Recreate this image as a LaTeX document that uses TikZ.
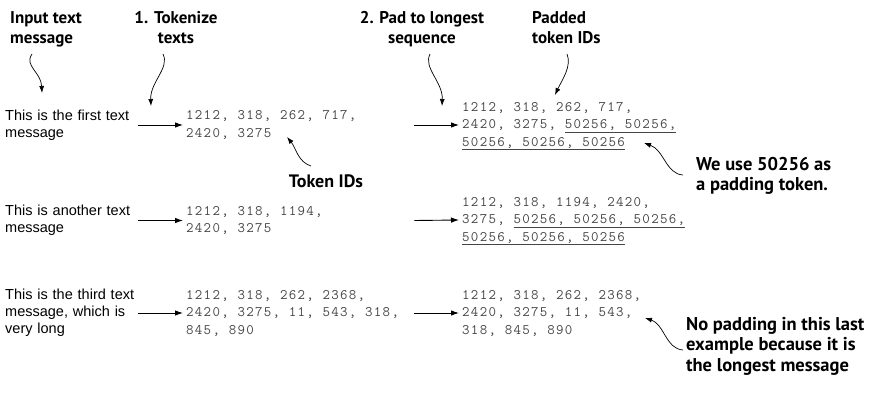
\documentclass[tikz,border=0pt]{standalone}
\usepackage{fontspec}
\setmainfont{Liberation Sans}
\newfontfamily\lblfont{PT Sans}
\newfontfamily\idfont[LetterSpace=9]{Latin Modern Mono}
\usetikzlibrary{arrows.meta}
\definecolor{idgray}{HTML}{454545}
\newcommand{\idlines}[1]{\begin{tabular}{@{}l@{}}#1\end{tabular}}
\begin{document}
\begin{tikzpicture}[x=1pt,y=-1pt,
  lbl/.style={font=\lblfont\bfseries\fontsize{17}{20}\selectfont, inner sep=0pt, align=left, text=black},
  lblr/.style={lbl, font=\lblfont\bfseries\fontsize{18.5}{20.5}\selectfont},
  src/.style={font=\fontsize{14.5}{17}\selectfont, align=left, text width=130pt, inner sep=3pt, anchor=west},
  ids/.style={font=\idfont\fontsize{14.5}{17.5}\selectfont, text=idgray, inner sep=3pt, anchor=west},
  flow/.style={-{Latex[length=8pt,width=5.5pt]}, line width=0.9pt},
  call/.style={-{Latex[length=7pt,width=5pt]}, line width=0.7pt},
]
\useasboundingbox (0,0) rectangle (878,407);

% labels
\node[lbl, anchor=north west] (inlbl) at (10,11) {Input text\\message};
\node[lbl, anchor=north, align=center] (toklbl) at (176,11) {1. Tokenize\\texts};
\node[lbl, anchor=north, align=center] (padlbl) at (422,11) {2. Pad to longest\\sequence};
\node[lbl, anchor=north west] (paddedlbl) at (532,11) {Padded\\token IDs};
\node[lbl, anchor=center, font=\lblfont\bfseries\fontsize{18}{20}\selectfont] (tidlbl) at (326,181) {Token IDs};
\node[lblr, anchor=north west] (uselbl) at (696,157) {We use 50256 as\\a padding token.};
\node[lblr, anchor=north west] (nolbl) at (686,317) {No padding in this last\\example because it is\\the longest message};

% source texts
\node[src] (src1) at (2,125) {This is the first text\\message};
\node[src] (src2) at (2,220.5) {This is another text\\message};
\node[src] (src3) at (2,313) {This is the third text\\message, which is\\very long};

% token IDs
\node[ids] (mid1) at (183,125) {\makebox[225pt][l]{\idlines{1212, 318, 262, 717,\\2420, 3275}}};
\node[ids] (mid2) at (183,220.5) {\makebox[225pt][l]{\idlines{1212, 318, 1194,\\2420, 3275}}};
\node[ids] (mid3) at (183,313) {\makebox[225pt][l]{\idlines{1212, 318, 262, 2368,\\2420, 3275, 11, 543, 318,\\845, 890}}};

% padded
\node[ids] (pad1) at (459,125) {\idlines{1212, 318, 262, 717,\\2420, 3275, \underline{50256, 50256,}\\\underline{50256, 50256, 50256}}};
\node[ids] (pad2) at (459,220) {\idlines{1212, 318, 1194, 2420,\\3275, \underline{50256, 50256, 50256,}\\\underline{50256, 50256, 50256}}};
\node[ids] (pad3) at (459,313) {\idlines{1212, 318, 262, 2368,\\2420, 3275, 11, 543,\\318, 845, 890}};

% flow arrows
\foreach \r in {1,2,3}{
  \draw[flow] (src\r.east) -- (mid\r.west);
  \draw[flow] (mid\r.east) -- (pad\r.west);
}

% callout coordinates
\coordinate (inS) at (32,54);
\coordinate (inT) at (42,93);
\coordinate (tokS) at (163,54);
\coordinate (tokT) at (151,106);
\coordinate (padS) at (430,54);
\coordinate (padT) at (442,106);
\coordinate (pdS) at (567,54);
\coordinate (pdT) at (555,95);
\coordinate (tidS) at (311,166);
\coordinate (tidT) at (287,137);
\coordinate (useS) at (683,175);
\coordinate (useT) at (644,143);
\coordinate (noS) at (683,350);
\coordinate (noT) at (645,318);

\draw[call] (inS) .. controls (24,66) and (41,72) .. (inT);
\draw[call] (tokS) .. controls (170,68) and (150,82) .. (tokT);
\draw[call] (padS) .. controls (423,68) and (443,82) .. (padT);
\draw[call] (pdS) .. controls (572,66) and (562,80) .. (pdT);
\draw[call] (tidS) .. controls (298,162) and (296,148) .. (tidT);
\draw[call] (useS) .. controls (666,174) and (664,150) .. (useT);
\draw[call] (noS) .. controls (666,349) and (664,324) .. (noT);
\end{tikzpicture}
\end{document}
